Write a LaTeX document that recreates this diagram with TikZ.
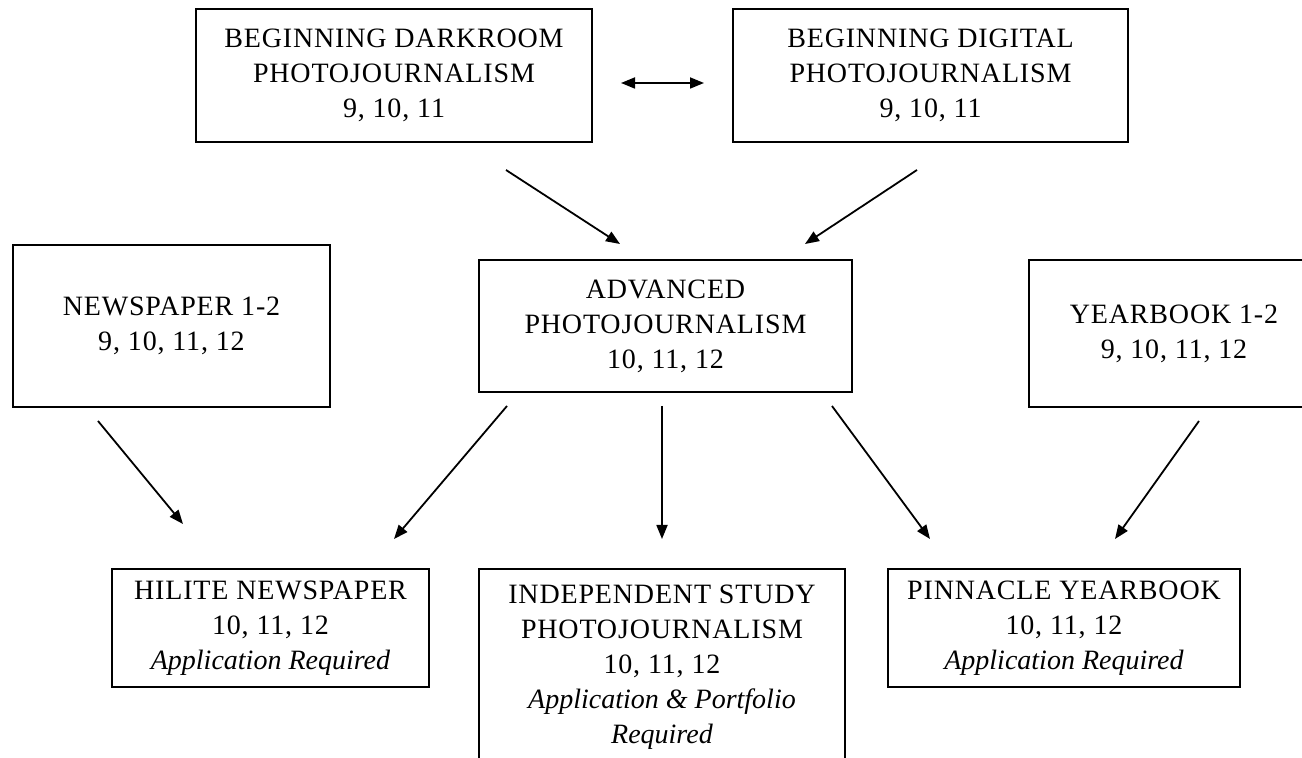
\documentclass[tikz,border=0pt]{standalone}
\usepackage{fontspec}
\setmainfont[UprightFeatures={LetterSpace=3}]{Liberation Serif}
\usetikzlibrary{arrows.meta}
\tikzset{
  course/.style={draw, line width=0.9pt, align=center, inner sep=0pt,
    font=\fontsize{14}{17.5}\selectfont},
  boxwh/.style 2 args={minimum width=#1*0.5pt, minimum height=#2*0.5pt},
  arr/.style={-{Triangle[length=7pt,width=5.5pt]}, line width=0.9pt},
  dblarr/.style={{Triangle[length=7pt,width=5.5pt]}-{Triangle[length=7pt,width=5.5pt]}, line width=0.9pt},
}

\begin{document}
\begin{tikzpicture}[x=0.5pt, y=-0.5pt]
  \useasboundingbox (0,0) rectangle (1302,758);
  \clip (0,0) rectangle (1302,758);
  % beginning courses
  \node[course, boxwh={396}{133}] (dark) at (394,75.5) {BEGINNING DARKROOM\\PHOTOJOURNALISM\\9, 10, 11};
  \node[course, boxwh={395}{133}] (digital) at (930.5,75.5) {BEGINNING DIGITAL\\PHOTOJOURNALISM\\9, 10, 11};
  % middle row
  \node[course, boxwh={317}{162}] (news) at (171.5,326) {NEWSPAPER 1-2\\9, 10, 11, 12};
  \node[course, boxwh={373}{132}] (adv) at (665.5,326) {ADVANCED\\PHOTOJOURNALISM\\10, 11, 12};
  \node[course, boxwh={290}{147}] (year) at (1174,333.5) {YEARBOOK 1-2\\9, 10, 11, 12};
  % staff courses
  \node[course, boxwh={317}{118}] (hilite) at (270.5,628) {HILITE NEWSPAPER\\10, 11, 12\\\textit{Application Required}};
  \node[course, boxwh={366}{196}] (indep) at (662,667) {INDEPENDENT STUDY\\PHOTOJOURNALISM\\10, 11, 12\\\textit{Application \& Portfolio}\\\textit{Required}};
  \node[course, boxwh={352}{118}] (pinn) at (1064,628) {PINNACLE YEARBOOK\\10, 11, 12\\\textit{Application Required}};

  % arrow ends (the arrows stop short of the boxes)
  \coordinate (darkL) at (621,83);
  \coordinate (digR) at (704,83);
  \coordinate (darkOut) at (506,170);
  \coordinate (advInL) at (620,244);
  \coordinate (digOut) at (917,170);
  \coordinate (advInR) at (805,244);
  \coordinate (newsOut) at (98,421);
  \coordinate (hiliteInL) at (183,524);
  \coordinate (advOutL) at (507,406);
  \coordinate (hiliteInR) at (394,539);
  \coordinate (advOutM) at (662,406);
  \coordinate (indepIn) at (662,539);
  \coordinate (advOutR) at (832,406);
  \coordinate (pinnInL) at (930,539);
  \coordinate (yearOut) at (1199,421);
  \coordinate (pinnInR) at (1115,539);

  \draw[dblarr] (darkL) -- (digR);
  \draw[arr] (darkOut) -- (advInL);
  \draw[arr] (digOut) -- (advInR);
  \draw[arr] (newsOut) -- (hiliteInL);
  \draw[arr] (advOutL) -- (hiliteInR);
  \draw[arr] (advOutM) -- (indepIn);
  \draw[arr] (advOutR) -- (pinnInL);
  \draw[arr] (yearOut) -- (pinnInR);
\end{tikzpicture}
\end{document}
